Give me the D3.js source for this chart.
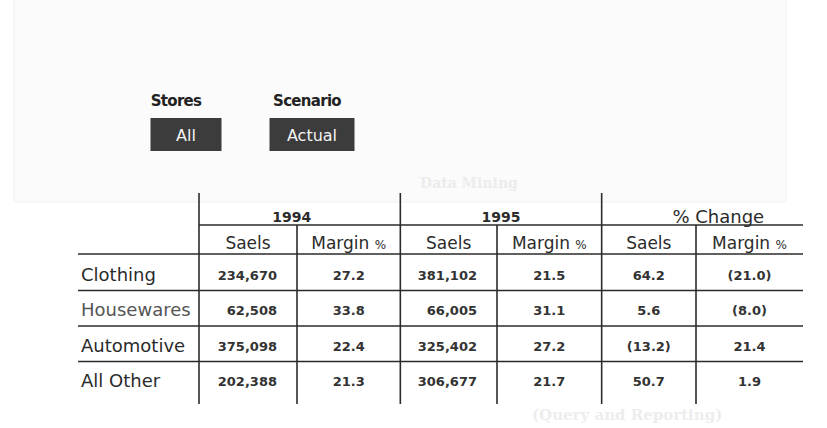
<!DOCTYPE html>
<html>
<head>
<meta charset="utf-8">
<script src="https://cdn.jsdelivr.net/npm/d3@7"></script>
<style>
  body { margin: 0; background: #fff; }
  svg { display: block; }
</style>
</head>
<body>
<svg id="chart" width="827" height="428"></svg>
<script>
// Table data
const categories = ["Clothing", "Housewares", "Automotive", "All Other"];
const groups = ["1994", "1995", "% Change"];
const measures = ["Saels", "Margin"];
const sales94 = [234670, 62508, 375098, 202388];
const margin94 = [27.2, 33.8, 22.4, 21.3];
const sales95 = [381102, 66005, 325402, 306677];
const margin95 = [21.5, 31.1, 27.2, 21.7];
const salesChange = [64.2, 5.6, -13.2, 50.7];
const marginChange = [-21.0, -8.0, 21.4, 1.9];

// Filter selectors above the table
const filterLabels = ["Stores", "Scenario"];
const filterValues = ["All", "Actual"];

const svg = d3.select("#chart");
const FONT = "'DejaVu Sans', sans-serif";
const INK = "#2b2b2b";

// faint scanned panel behind the selectors
svg.append("rect")
    .attr("x", 14).attr("y", -2)
    .attr("width", 772).attr("height", 204)
    .attr("fill", "#fbfbfb")
    .attr("stroke", "#f0f0f0");

// ghost text bleeding through from the other side of the page
svg.append("text")
    .attr("x", 420).attr("y", 188)
    .attr("font-family", "'DejaVu Serif', serif")
    .attr("font-weight", "bold")
    .attr("font-size", 14)
    .attr("fill", "#ececec")
    .text("Data Mining");
svg.append("text")
    .attr("x", 532).attr("y", 420)
    .attr("font-family", "'DejaVu Serif', serif")
    .attr("font-weight", "bold")
    .attr("font-size", 15)
    .attr("fill", "#ededed")
    .text("(Query and Reporting)");

/////////////////
// Filter buttons
/////////////////
const filterX = d3.scalePoint().domain(filterLabels).range([186, 312]);
const filterW = { "Stores": 71, "Scenario": 85 };
const labelShift = { "Stores": -10, "Scenario": -5 };

const filters = svg.selectAll("g.filter")
    .data(filterLabels)
    .enter()
    .append("g")
    .attr("class", "filter")
    .attr("transform", d => `translate(${filterX(d)},0)`);

filters.append("text")
    .attr("x", d => labelShift[d])
    .attr("y", 106)
    .attr("text-anchor", "middle")
    .attr("font-family", FONT)
    .attr("font-weight", "bold")
    .attr("font-size", 15)
    .attr("letter-spacing", -0.7)
    .attr("fill", "#222")
    .text(d => d);

filters.append("rect")
    .attr("x", d => -filterW[d] / 2)
    .attr("y", 118)
    .attr("width", d => filterW[d])
    .attr("height", 33)
    .attr("fill", "#3c3c3c");

filters.append("text")
    .attr("x", 0)
    .attr("y", 141)
    .attr("text-anchor", "middle")
    .attr("font-family", FONT)
    .attr("font-size", 16)
    .attr("fill", "#f4f4f4")
    .text((d, i) => filterValues[i]);

/////////////////
// Table
/////////////////
const left = 78, right = 803;
const groupX = d3.scaleBand().domain(groups).range([199, 803]);
// column edges inside each group (Sales | Margin)
const splitX = { "1994": 297, "1995": 497, "% Change": 696 };
const groupNudge = { "1994": -8, "1995": 0, "% Change": 16 };

const rowY = d3.scaleBand().domain(categories).range([255, 397]);

const yTop = 193, yGroupLine = 225, yHeadLine = 254, yBottom = 404;

const lines = svg.append("g")
    .attr("stroke", INK)
    .attr("stroke-width", 1.6);

// horizontal rules
lines.append("line")
    .attr("x1", groupX("1994")).attr("x2", right)
    .attr("y1", yGroupLine).attr("y2", yGroupLine);
lines.append("line")
    .attr("x1", left).attr("x2", right)
    .attr("y1", yHeadLine).attr("y2", yHeadLine);
lines.selectAll("line.row")
    .data(categories.slice(0, -1))
    .enter()
    .append("line")
    .attr("class", "row")
    .attr("x1", left).attr("x2", right)
    .attr("y1", d => rowY(d) + rowY.bandwidth())
    .attr("y2", d => rowY(d) + rowY.bandwidth());

// vertical rules
lines.selectAll("line.group")
    .data(groups)
    .enter()
    .append("line")
    .attr("class", "group")
    .attr("x1", d => groupX(d)).attr("x2", d => groupX(d))
    .attr("y1", yTop).attr("y2", yBottom);
lines.selectAll("line.split")
    .data(groups)
    .enter()
    .append("line")
    .attr("class", "split")
    .attr("x1", d => splitX[d]).attr("x2", d => splitX[d])
    .attr("y1", yGroupLine).attr("y2", yBottom);

// group headers
svg.selectAll("text.group")
    .data(groups)
    .enter()
    .append("text")
    .attr("class", "group")
    .attr("x", d => groupX(d) + groupX.bandwidth() / 2 + groupNudge[d])
    .attr("y", d => d == "% Change" ? 223 : 222)
    .attr("text-anchor", "middle")
    .attr("font-family", FONT)
    .attr("font-weight", d => d == "% Change" ? "normal" : "bold")
    .attr("font-size", d => d == "% Change" ? 18 : 14)
    .attr("fill", INK)
    .text(d => d);

// measure headers, one pair per group
const subHeads = [];
groups.forEach(g => {
    subHeads.push({ g: g, m: measures[0], x0: groupX(g), x1: splitX[g] });
    subHeads.push({ g: g, m: measures[1], x0: splitX[g], x1: groupX(g) + groupX.bandwidth() });
});

const sh = svg.selectAll("text.sub")
    .data(subHeads)
    .enter()
    .append("text")
    .attr("class", "sub")
    .attr("x", d => (d.x0 + d.x1) / 2)
    .attr("y", 249)
    .attr("text-anchor", "middle")
    .attr("font-family", FONT)
    .attr("font-size", 17)
    .attr("fill", INK);
sh.append("tspan").text(d => d.m == "Margin" ? "Margin " : d.m);
sh.filter(d => d.m == "Margin")
    .append("tspan")
    .attr("font-size", 12)
    .text("%");

// row labels
svg.selectAll("text.cat")
    .data(categories)
    .enter()
    .append("text")
    .attr("class", "cat")
    .attr("x", 81)
    .attr("y", d => rowY(d) + rowY.bandwidth() / 2 + 8)
    .attr("font-family", FONT)
    .attr("font-size", 18)
    .attr("fill", d => d == "Housewares" ? "#555" : INK)
    .text(d => d);

// cell values
const fmtSales = d3.format(",");
const fmtPct = v => v < 0 ? `(${d3.format(".1f")(-v)})` : d3.format(".1f")(v);

const columns = [
    { g: "1994", m: "Saels", values: sales94 },
    { g: "1994", m: "Margin", values: margin94 },
    { g: "1995", m: "Saels", values: sales95 },
    { g: "1995", m: "Margin", values: margin95 },
    { g: "% Change", m: "Saels", values: salesChange },
    { g: "% Change", m: "Margin", values: marginChange }
];

const cells = [];
columns.forEach(c => {
    const x0 = c.m == "Saels" ? groupX(c.g) : splitX[c.g];
    const x1 = c.m == "Saels" ? splitX[c.g] : groupX(c.g) + groupX.bandwidth();
    const isSales = c.m == "Saels" && c.g != "% Change";
    c.values.forEach((v, i) => {
        cells.push({
            cat: categories[i],
            text: isSales ? fmtSales(v) : fmtPct(v),
            x: isSales ? x1 - 20 : (x0 + x1) / 2,
            anchor: isSales ? "end" : "middle"
        });
    });
});

svg.selectAll("text.cell")
    .data(cells)
    .enter()
    .append("text")
    .attr("class", "cell")
    .attr("x", d => d.x)
    .attr("y", d => rowY(d.cat) + rowY.bandwidth() / 2 + 7)
    .attr("text-anchor", d => d.anchor)
    .attr("font-family", FONT)
    .attr("font-weight", "bold")
    .attr("font-size", 13)
    .attr("fill", "#333")
    .text(d => d.text);
</script>
</body>
</html>
